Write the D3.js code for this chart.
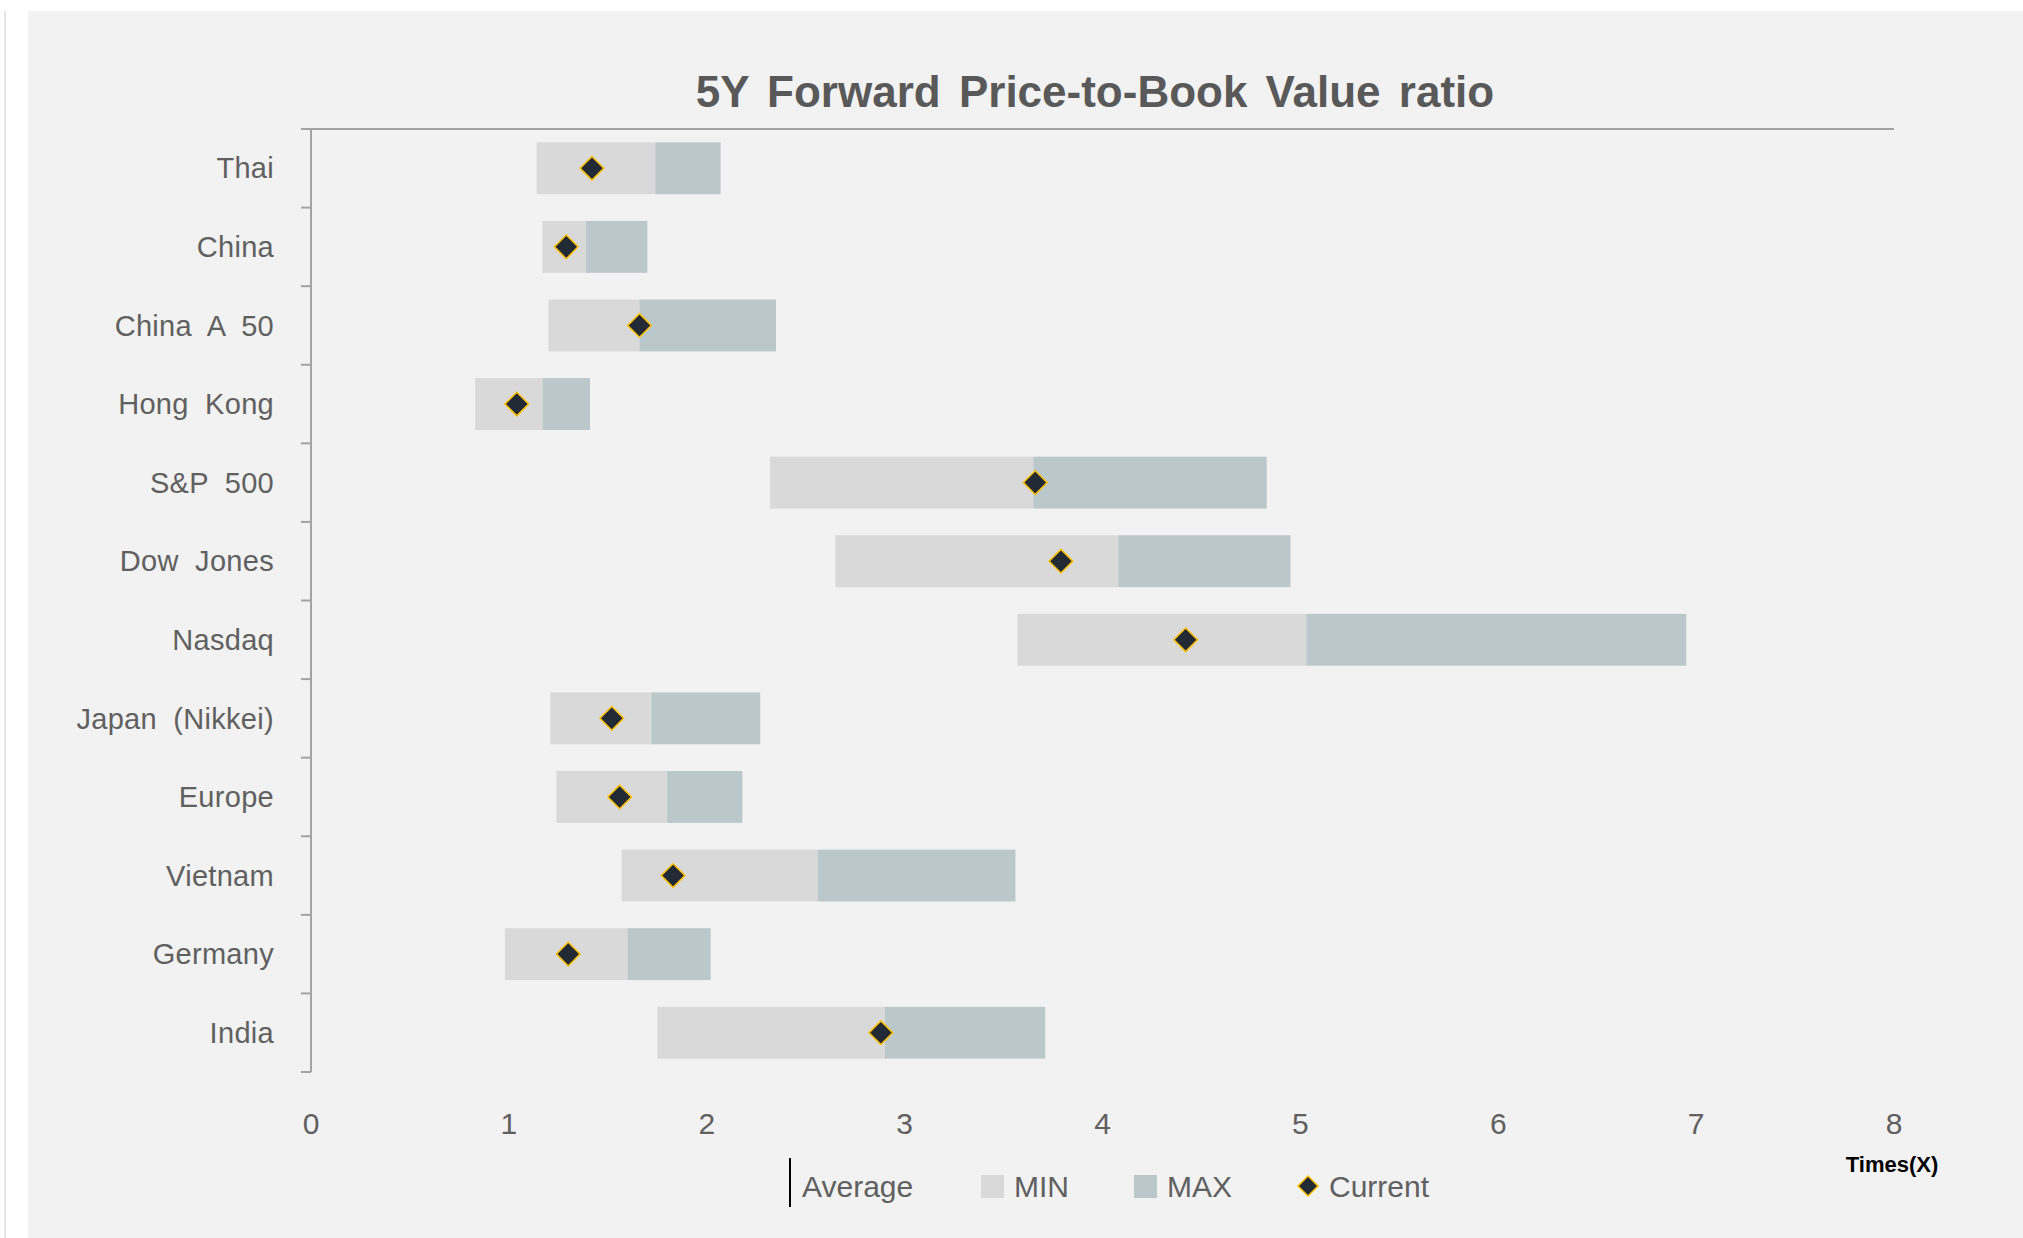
<!DOCTYPE html>
<html>
<head>
<meta charset="utf-8">
<script src="https://cdn.jsdelivr.net/npm/d3@7"></script>
<style>
  html, body { margin: 0; padding: 0; background: #fff; }
  svg { display: block; font-family: "Liberation Sans", Arial, sans-serif; }
</style>
</head>
<body>
<svg width="2023" height="1238"></svg>
<script>
// data (times book value)
var categories = ["Thai", "China", "China A 50", "Hong Kong", "S&P 500", "Dow Jones", "Nasdaq",
                  "Japan (Nikkei)", "Europe", "Vietnam", "Germany", "India"];
var minValues     = [1.14, 1.17, 1.20, 0.83, 2.32, 2.65, 3.57, 1.21, 1.24, 1.57, 0.98, 1.75];
var avgValues     = [1.74, 1.39, 1.66, 1.17, 3.65, 4.08, 5.03, 1.72, 1.80, 2.56, 1.60, 2.90];
var maxValues     = [2.07, 1.70, 2.35, 1.41, 4.83, 4.95, 6.95, 2.27, 2.18, 3.56, 2.02, 3.71];
var currentValues = [1.42, 1.29, 1.66, 1.04, 3.66, 3.79, 4.42, 1.52, 1.56, 1.83, 1.30, 2.88];
var xTicks = [0, 1, 2, 3, 4, 5, 6, 7, 8];

var svg = d3.select("svg"),
    width = +svg.attr("width"),
    height = +svg.attr("height");

var textColor = "#606060",
    axisColor = "#a3a3a3",
    minColor = "#d9d9d9",
    maxColor = "#bac8cc";

// panel
svg.append("line")
    .attr("x1", 5).attr("x2", 5).attr("y1", 11).attr("y2", height)
    .attr("stroke", "#e6e6e6").attr("stroke-width", 2);
svg.append("rect")
    .attr("x", 28).attr("y", 11)
    .attr("width", width - 28).attr("height", height - 11)
    .attr("fill", "#f2f2f2");

var x = d3.scaleLinear().domain([0, 8]).range([311, 1894]);
var y = d3.scaleBand().domain(categories).range([129, 1072])
    .paddingInner(0.34).paddingOuter(0.17);
var step = y.step();

var rows = categories.map(function(c, i) {
  return { name: c, min: minValues[i], avg: avgValues[i], max: maxValues[i], cur: currentValues[i] };
});

// title
svg.append("text")
    .attr("x", 1095).attr("y", 107)
    .attr("text-anchor", "middle")
    .attr("fill", "#595959")
    .style("font-size", "44px")
    .style("font-weight", "bold")
    .style("word-spacing", "6px")
    .text("5Y Forward Price-to-Book Value ratio");

// axes lines
svg.append("line")
    .attr("x1", 301).attr("x2", x(8)).attr("y1", 129).attr("y2", 129)
    .attr("stroke", axisColor).attr("stroke-width", 2);
svg.append("line")
    .attr("x1", x(0)).attr("x2", x(0)).attr("y1", 129).attr("y2", 1072)
    .attr("stroke", axisColor).attr("stroke-width", 2);
svg.append("g").selectAll("line")
    .data(d3.range(categories.length + 1))
    .enter().append("line")
    .attr("x1", 301).attr("x2", x(0))
    .attr("y1", function(i) { return 129 + i * step; })
    .attr("y2", function(i) { return 129 + i * step; })
    .attr("stroke", axisColor).attr("stroke-width", 2);

// category labels
svg.append("g").selectAll("text")
    .data(categories)
    .enter().append("text")
    .attr("x", 274)
    .attr("y", function(d) { return y(d) + y.bandwidth() / 2; })
    .attr("dy", "0.35em")
    .attr("text-anchor", "end")
    .attr("fill", textColor)
    .style("font-size", "29px")
    .style("word-spacing", "8px")
    .style("letter-spacing", "0.3px")
    .text(function(d) { return d; });

// x tick labels
svg.append("g").selectAll("text")
    .data(xTicks)
    .enter().append("text")
    .attr("x", function(d) { return x(d); })
    .attr("y", 1123)
    .attr("dy", "0.35em")
    .attr("text-anchor", "middle")
    .attr("fill", textColor)
    .style("font-size", "30px")
    .text(function(d) { return d; });

svg.append("text")
    .attr("x", 1892).attr("y", 1164)
    .attr("dy", "0.35em")
    .attr("text-anchor", "middle")
    .attr("fill", "#000")
    .style("font-size", "22px")
    .style("font-weight", "bold")
    .text("Times(X)");

// bars: min -> average, average -> max
var bars = svg.append("g").selectAll("g")
    .data(rows)
    .enter().append("g");

bars.append("rect")
    .attr("x", function(d) { return x(d.min); })
    .attr("y", function(d) { return y(d.name); })
    .attr("width", function(d) { return x(d.avg) - x(d.min); })
    .attr("height", y.bandwidth())
    .attr("fill", minColor);

bars.append("rect")
    .attr("x", function(d) { return x(d.avg); })
    .attr("y", function(d) { return y(d.name); })
    .attr("width", function(d) { return x(d.max) - x(d.avg); })
    .attr("height", y.bandwidth())
    .attr("fill", maxColor);

// current markers
var diamond = d3.symbol().type(d3.symbolSquare).size(280);
svg.append("g").selectAll("path")
    .data(rows)
    .enter().append("path")
    .attr("d", diamond)
    .attr("transform", function(d) {
      return "translate(" + x(d.cur) + "," + (y(d.name) + y.bandwidth() / 2) + ") rotate(45)";
    })
    .attr("fill", "#222a35")
    .attr("stroke", "#ffc000")
    .attr("stroke-width", 1.5);

// legend
var legend = svg.append("g").attr("transform", "translate(0,1186)");
legend.append("line")
    .attr("x1", 790).attr("x2", 790).attr("y1", -28).attr("y2", 21)
    .attr("stroke", "#000").attr("stroke-width", 2);
legend.append("rect")
    .attr("x", 981).attr("y", -11).attr("width", 23).attr("height", 23)
    .attr("fill", minColor);
legend.append("rect")
    .attr("x", 1134).attr("y", -11).attr("width", 23).attr("height", 23)
    .attr("fill", maxColor);
legend.append("path")
    .attr("d", d3.symbol().type(d3.symbolSquare).size(200))
    .attr("transform", "translate(1308,0) rotate(45)")
    .attr("fill", "#222a35")
    .attr("stroke", "#ffc000")
    .attr("stroke-width", 1.5);

var legendItems = [["Average", 802], ["MIN", 1014], ["MAX", 1167], ["Current", 1329]];
legend.selectAll("text.lab")
    .data(legendItems)
    .enter().append("text")
    .attr("class", "lab")
    .attr("x", function(d) { return d[1]; })
    .attr("y", 0)
    .attr("dy", "0.35em")
    .attr("fill", textColor)
    .style("font-size", "30px")
    .text(function(d) { return d[0]; });
</script>
</body>
</html>
